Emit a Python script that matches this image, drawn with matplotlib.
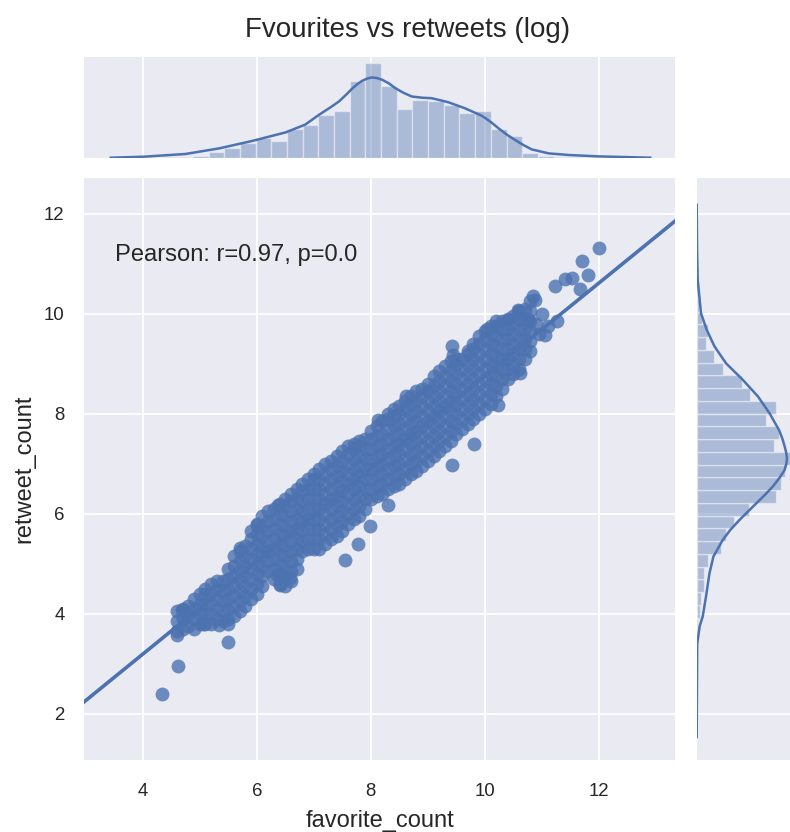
import numpy as np
import matplotlib
matplotlib.use("Agg")
import matplotlib.pyplot as plt


# ============================================================
# Data (log values)
# ============================================================

# dense part of the scatter, one column of retweet values per favourite value
BAND_FAV = [4.6, 4.7, 4.8, 4.9, 5.0, 5.1, 5.2, 5.3, 5.4, 5.5, 5.6, 5.7, 5.8,
            5.9, 6.0, 6.1, 6.2, 6.3, 6.4, 6.5, 6.6, 6.7, 6.8, 6.9, 7.0, 7.1,
            7.2, 7.3, 7.4, 7.5, 7.6, 7.7, 7.8, 7.9, 8.0, 8.1, 8.2, 8.3, 8.4,
            8.5, 8.6, 8.7, 8.8, 8.9, 9.0, 9.1, 9.2, 9.3, 9.4, 9.5, 9.6, 9.7,
            9.8, 9.9, 10.0, 10.1, 10.2, 10.3, 10.4, 10.5, 10.6, 10.7, 10.8]
BAND_RT = [
    [3.65, 3.85, 4.05],
    [3.70, 3.90, 4.10],
    [3.75, 3.95, 4.15],
    [3.70, 3.90, 4.10, 4.30],
    [3.80, 4.00, 4.20, 4.40],
    [3.80, 4.00, 4.20, 4.40, 4.50],
    [3.80, 4.00, 4.20, 4.40, 4.60],
    [3.90, 4.10, 4.30, 4.50, 4.65],
    [3.85, 4.05, 4.25, 4.45, 4.65],
    [3.90, 4.10, 4.30, 4.50, 4.70, 4.90],
    [3.95, 4.15, 4.35, 4.55, 4.75, 4.95, 5.15],
    [4.05, 4.25, 4.45, 4.65, 4.85, 5.05, 5.25],
    [4.15, 4.35, 4.55, 4.75, 4.95, 5.15, 5.35],
    [4.30, 4.50, 4.70, 4.90, 5.10, 5.30, 5.50, 5.65],
    [4.40, 4.60, 4.80, 5.00, 5.20, 5.40, 5.60, 5.80],
    [4.55, 4.75, 4.95, 5.15, 5.35, 5.55, 5.75, 5.95],
    [4.85, 5.05, 5.25, 5.45, 5.65, 5.85, 6.05],
    [4.70, 4.90, 5.10, 5.30, 5.50, 5.70, 5.90, 6.10],
    [4.60, 4.80, 5.00, 5.20, 5.40, 5.60, 5.80, 6.00, 6.20],
    [4.55, 4.75, 4.95, 5.15, 5.35, 5.55, 5.75, 5.95, 6.15, 6.30],
    [4.65, 4.85, 5.05, 5.25, 5.45, 5.65, 5.85, 6.05, 6.25, 6.40],
    [4.90, 5.10, 5.30, 5.50, 5.70, 5.90, 6.10, 6.30, 6.50],
    [5.25, 5.45, 5.65, 5.85, 6.05, 6.25, 6.45, 6.60],
    [5.30, 5.50, 5.70, 5.90, 6.10, 6.30, 6.50, 6.70],
    [5.30, 5.50, 5.70, 5.90, 6.10, 6.30, 6.50, 6.70, 6.80],
    [5.30, 5.50, 5.70, 5.90, 6.10, 6.30, 6.50, 6.70, 6.90],
    [5.40, 5.60, 5.80, 6.00, 6.20, 6.40, 6.60, 6.80, 7.00],
    [5.50, 5.70, 5.90, 6.10, 6.30, 6.50, 6.70, 6.90, 7.05],
    [5.55, 5.75, 5.95, 6.15, 6.35, 6.55, 6.75, 6.95, 7.15],
    [5.65, 5.85, 6.05, 6.25, 6.45, 6.65, 6.85, 7.05, 7.25],
    [5.80, 6.00, 6.20, 6.40, 6.60, 6.80, 7.00, 7.20, 7.35],
    [5.90, 6.10, 6.30, 6.50, 6.70, 6.90, 7.10, 7.30, 7.40],
    [5.95, 6.15, 6.35, 6.55, 6.75, 6.95, 7.15, 7.35, 7.45],
    [6.10, 6.30, 6.50, 6.70, 6.90, 7.10, 7.30, 7.50],
    [6.30, 6.50, 6.70, 6.90, 7.10, 7.30, 7.50, 7.65],
    [6.35, 6.55, 6.75, 6.95, 7.15, 7.35, 7.55, 7.75],
    [6.40, 6.60, 6.80, 7.00, 7.20, 7.40, 7.60, 7.85],
    [6.50, 6.70, 6.90, 7.10, 7.30, 7.50, 7.70, 7.90, 8.00],
    [6.55, 6.75, 6.95, 7.15, 7.35, 7.55, 7.75, 7.95, 8.10],
    [6.60, 6.80, 7.00, 7.20, 7.40, 7.60, 7.80, 8.00, 8.15],
    [6.70, 6.90, 7.10, 7.30, 7.50, 7.70, 7.90, 8.10, 8.25],
    [6.80, 7.00, 7.20, 7.40, 7.60, 7.80, 8.00, 8.20, 8.35],
    [6.85, 7.05, 7.25, 7.45, 7.65, 7.85, 8.05, 8.25, 8.45],
    [6.95, 7.15, 7.35, 7.55, 7.75, 7.95, 8.15, 8.35, 8.50],
    [7.05, 7.25, 7.45, 7.65, 7.85, 8.05, 8.25, 8.45, 8.60],
    [7.15, 7.35, 7.55, 7.75, 7.95, 8.15, 8.35, 8.55, 8.75],
    [7.25, 7.45, 7.65, 7.85, 8.05, 8.25, 8.45, 8.65, 8.85],
    [7.35, 7.55, 7.75, 7.95, 8.15, 8.35, 8.55, 8.75, 8.95],
    [7.45, 7.65, 7.85, 8.05, 8.25, 8.45, 8.65, 8.85, 9.05],
    [7.60, 7.80, 8.00, 8.20, 8.40, 8.60, 8.80, 9.00, 9.10],
    [7.70, 7.90, 8.10, 8.30, 8.50, 8.70, 8.90, 9.10],
    [7.80, 8.00, 8.20, 8.40, 8.60, 8.80, 9.00, 9.20, 9.25],
    [7.90, 8.10, 8.30, 8.50, 8.70, 8.90, 9.10, 9.30, 9.40],
    [8.00, 8.20, 8.40, 8.60, 8.80, 9.00, 9.20, 9.40, 9.55],
    [8.10, 8.30, 8.50, 8.70, 8.90, 9.10, 9.30, 9.50, 9.65],
    [8.20, 8.40, 8.60, 8.80, 9.00, 9.20, 9.40, 9.60, 9.75],
    [8.35, 8.55, 8.75, 8.95, 9.15, 9.35, 9.55, 9.75, 9.85],
    [8.50, 8.70, 8.90, 9.10, 9.30, 9.50, 9.70, 9.85],
    [8.70, 8.90, 9.10, 9.30, 9.50, 9.70, 9.90],
    [8.80, 9.00, 9.20, 9.40, 9.60, 9.80, 9.95],
    [8.90, 9.10, 9.30, 9.50, 9.70, 9.90, 10.05],
    [9.10, 9.30, 9.50, 9.70, 9.90, 10.10],
    [9.25, 9.45, 9.65, 9.85, 10.05, 10.25],
]

# scattered single tweets around the band
OUTLIER_FAV = [4.34, 4.62, 5.50, 4.60, 4.68, 5.06, 5.33, 5.50, 5.71, 6.00,
               6.38, 6.35, 6.41, 6.58, 7.55, 7.78, 7.98, 8.31, 8.13, 8.62,
               9.42, 9.45, 9.42, 9.81, 10.04, 10.23, 10.62, 10.60, 10.85,
               10.88, 11.05, 11.23, 11.26, 11.40, 11.52, 11.67, 11.70, 11.81,
               12.00, 10.90, 11.00, 10.75, 11.10, 10.95, 10.41, 10.59]
OUTLIER_RT = [2.39, 2.95, 3.43, 3.58, 4.07, 3.80, 3.78, 3.80, 5.32, 5.78,
              6.18, 4.78, 4.58, 4.72, 5.08, 5.40, 5.76, 6.18, 7.88, 8.35,
              9.35, 9.18, 6.98, 7.40, 9.70, 8.18, 8.82, 10.05, 10.35,
              10.28, 9.58, 10.55, 9.85, 10.69, 10.72, 10.50, 11.05, 10.77,
              11.32, 9.80, 10.00, 9.90, 9.75, 9.60, 9.88, 10.08]

# fitted regression line
REG_SLOPE = 0.9275
REG_INTERCEPT = -0.514
PEARSON_TEXT = "Pearson: r=0.97, p=0.0"

# marginal histogram of favourite_count (relative bar heights)
FAV_BIN_START = 4.33
FAV_BIN_WIDTH = 0.275
FAV_HIST = [0.4, 0.8, 2.0, 6.0, 10.0, 14.3, 20.0, 17.0, 28.7, 33.0, 42.7,
            47.0, 76.7, 94.3, 71.0, 49.0, 58.0, 57.0, 53.0, 45.0, 47.0,
            29.0, 22.0, 5.0, 2.0, 1.0, 0.5, 0.5]
FAV_KDE_X = [3.44, 4.02, 4.75, 5.34, 5.92, 6.51, 6.85, 7.09, 7.30, 7.44,
             7.58, 7.68, 7.78, 7.85, 7.94, 8.02, 8.10, 8.20, 8.32, 8.43,
             8.58, 8.72, 8.90, 9.07, 9.36, 9.65, 9.95, 10.10, 10.24, 10.38,
             10.53, 10.68, 10.82, 11.12, 11.47, 12.00, 12.90]
FAV_KDE_Y = [0.0, 1.0, 3.7, 9.3, 16.7, 25.3, 33.0, 42.7, 50.5, 56.0,
             63.5, 69.3, 74.0, 76.7, 79.0, 80.0, 79.5, 77.7, 74.0, 69.3,
             64.5, 61.0, 59.8, 59.3, 55.3, 49.3, 41.7, 35.8, 29.3, 23.2,
             17.7, 12.5, 8.3, 4.3, 2.7, 1.3, 0.0]

# marginal histogram of retweet_count (relative bar lengths)
RT_BIN_START = 2.40
RT_BIN_WIDTH = 0.2548
RT_HIST = [0.5, 0.0, 0.5, 0.5, 1.0, 1.5, 3.0, 4.5, 7.7, 7.7, 11.0, 24.3,
           29.3, 37.0, 52.0, 78.7, 84.3, 87.7, 95.0, 76.7, 82.0, 68.7,
           79.3, 52.7, 45.0, 26.7, 17.7, 9.3, 11.0, 5.0, 2.0, 1.0, 0.5,
           0.5, 0.5]
RT_KDE_Y = [12.18, 11.25, 10.68, 10.01, 9.68, 9.35, 9.01, 8.68, 8.35, 8.01,
            7.68, 7.50, 7.35, 7.22, 7.11, 7.00, 6.88, 6.72, 6.55, 6.38,
            6.21, 5.88, 5.68, 5.48, 5.15, 4.81, 4.35, 3.95, 3.76, 3.40, 1.54]
RT_KDE_X = [0.0, 0.4, 1.0, 4.3, 10.0, 17.7, 29.3, 46.0, 61.0, 72.7,
            82.0, 85.5, 87.7, 89.3, 90.0, 89.3, 87.7, 82.5, 76.0, 68.0,
            59.3, 42.7, 33.5, 26.0, 16.7, 12.7, 9.3, 6.0, 3.0, 0.5, 0.0]

TICKS_FAV = [4, 6, 8, 10, 12]
TICKS_RT = [2, 4, 6, 8, 10, 12]


# ============================================================
# Style
# ============================================================

BLUE = "#4c72b0"
BG = "#eaeaf2"
TEXT = "#262626"
W, H = 790, 832

plt.rcParams["font.family"] = ["Liberation Sans", "DejaVu Sans"]
plt.rcParams["text.color"] = TEXT
plt.rcParams["axes.labelcolor"] = TEXT
plt.rcParams["xtick.color"] = TEXT
plt.rcParams["ytick.color"] = TEXT


def px_rect(left, top, right, bottom):
    """Axes rectangle in figure fractions from pixel edges."""
    return [left / W, 1 - bottom / H, (right - left) / W, (bottom - top) / H]


def style_axes(ax):
    ax.set_facecolor(BG)
    for sp in ax.spines.values():
        sp.set_visible(False)
    ax.grid(True, color="white", linewidth=1.3)
    ax.set_axisbelow(True)
    ax.tick_params(length=0, labelsize=13.4)
    ax.tick_params(axis="x", pad=16.5)
    ax.tick_params(axis="y", pad=14)


# ============================================================
# Plot
# ============================================================

fig = plt.figure(figsize=(W / 100, H / 100), dpi=100)
ax = fig.add_axes(px_rect(84, 178.3, 675.3, 760))
ax_top = fig.add_axes(px_rect(84, 56.7, 675.3, 157.7))
ax_right = fig.add_axes(px_rect(696.7, 178.3, 797.7, 760))
for a in (ax, ax_top, ax_right):
    style_axes(a)

# joint scatter
fav = np.concatenate([[x] * len(col) for x, col in zip(BAND_FAV, BAND_RT)]
                     + [OUTLIER_FAV])
rt = np.concatenate([np.array(col) for col in BAND_RT] + [OUTLIER_RT])
ax.scatter(fav, rt, s=100, color=BLUE, alpha=0.8, linewidths=0, zorder=2)

xlim = (2.97, 13.34)
ylim = (1.08, 12.71)
line_x = np.array(xlim)
ax.plot(line_x, REG_INTERCEPT + REG_SLOPE * line_x, color=BLUE,
        linewidth=2.6, zorder=3)
ax.set_xlim(xlim)
ax.set_ylim(ylim)
ax.set_xticks(TICKS_FAV)
ax.set_yticks(TICKS_RT)
ax.set_xlabel("favorite_count", fontsize=17, labelpad=7)
ax.set_ylabel("retweet_count", fontsize=17, labelpad=6)
ax.text(3.51, 11.05, PEARSON_TEXT, fontsize=17.1, ha="left", va="baseline")

# top marginal
fav_edges = FAV_BIN_START + FAV_BIN_WIDTH * np.arange(len(FAV_HIST))
ax_top.bar(fav_edges, FAV_HIST, width=FAV_BIN_WIDTH, align="edge",
           color=BLUE, alpha=0.4, edgecolor="white", linewidth=1)
ax_top.plot(FAV_KDE_X, FAV_KDE_Y, color=BLUE, linewidth=1.8)
ax_top.set_xlim(xlim)
ax_top.set_ylim(0, 100.7)
ax_top.set_xticks(TICKS_FAV)
ax_top.yaxis.grid(False)
ax_top.tick_params(labelbottom=False, labelleft=False)

# right marginal
rt_edges = RT_BIN_START + RT_BIN_WIDTH * np.arange(len(RT_HIST))
ax_right.barh(rt_edges, RT_HIST, height=RT_BIN_WIDTH, align="edge",
              color=BLUE, alpha=0.4, edgecolor="white", linewidth=1)
ax_right.plot(RT_KDE_X, RT_KDE_Y, color=BLUE, linewidth=1.8)
ax_right.set_ylim(ylim)
ax_right.set_xlim(0, 100.7)
ax_right.set_yticks(TICKS_RT)
ax_right.xaxis.grid(False)
ax_right.tick_params(labelbottom=False, labelleft=False)

fig.text(407.5 / W, 1 - 30 / H, "Fvourites vs retweets (log)",
         ha="center", va="center", fontsize=20)

fig.savefig("out.png", dpi=100)
